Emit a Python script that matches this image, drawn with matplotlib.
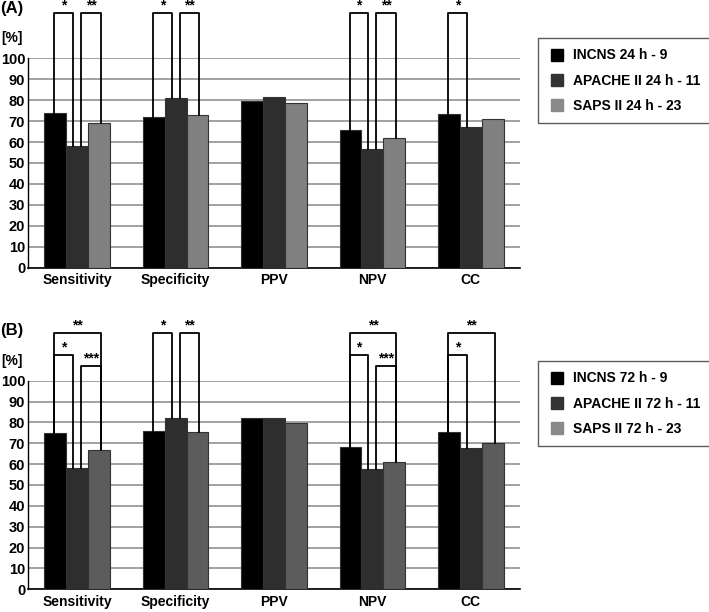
import numpy as np
import matplotlib.pyplot as plt
from matplotlib.lines import Line2D

plt.rcParams['font.family'] = ['Liberation Sans', 'DejaVu Sans']
plt.rcParams['font.weight'] = 'bold'

categories = ["Sensitivity", "Specificity", "PPV", "NPV", "CC"]

incns_24 = [74, 72, 79.5, 65.8, 73.3]
apache_24 = [58, 81, 81.7, 56.7, 67.2]
saps_24 = [69.3, 72.8, 78.7, 62, 71]

incns_72 = [75, 76, 82, 68, 75.3]
apache_72 = [58.3, 82, 82, 57.5, 67.6]
saps_72 = [66.8, 75.3, 79.7, 61, 70.3]

labels_24 = ["INCNS 24 h - 9", "APACHE II 24 h - 11", "SAPS II 24 h - 23"]
labels_72 = ["INCNS 72 h - 9", "APACHE II 72 h - 11", "SAPS II 72 h - 23"]

# (category, bar i, bar j, bracket height, stars)
brackets_24 = [(0, 0, 1, 121.5, "*"), (0, 1, 2, 121.5, "**"),
               (1, 0, 1, 121.5, "*"), (1, 1, 2, 121.5, "**"),
               (3, 0, 1, 121.5, "*"), (3, 1, 2, 121.5, "**"),
               (4, 0, 1, 121.5, "*")]
brackets_72 = [(0, 0, 2, 122.7, "**"), (0, 0, 1, 112.3, "*"), (0, 1, 2, 107.2, "***"),
               (1, 0, 1, 122.7, "*"), (1, 1, 2, 122.7, "**"),
               (3, 0, 2, 122.7, "**"), (3, 0, 1, 112.3, "*"), (3, 1, 2, 107.2, "***"),
               (4, 0, 2, 122.7, "**"), (4, 0, 1, 112.3, "*")]

W, H = 709, 612
fig = plt.figure(figsize=(W / 100, H / 100), dpi=100)

width = 0.222
legend_colors = ["#000000", "#333333", "#8a8a8a"]


def draw_panel(rect, series, saps_color, labels, brackets, tag, legend_top):
    ax = fig.add_axes(rect)
    x = np.arange(len(categories))
    colors = ["#000000", "#2e2e2e", saps_color]
    for k, vals in enumerate(series):
        ax.bar(x + (k - 1) * width, vals, width, color=colors[k],
               edgecolor="#333333", linewidth=0.8, zorder=3)

    ax.set_xlim(-0.5, 4.5)
    ax.set_ylim(0, 100)
    ax.set_yticks(range(0, 101, 10))
    ax.yaxis.grid(True, color="#9a9a9a", linewidth=1.3, zorder=0)
    ax.set_axisbelow(True)
    for s in ["top", "right"]:
        ax.spines[s].set_visible(False)
    ax.spines["left"].set_linewidth(1.0)
    ax.spines["bottom"].set_linewidth(1.2)
    ax.tick_params(axis="y", length=0, pad=2, labelsize=10.5)
    ax.tick_params(axis="x", length=0, pad=4, labelsize=10)
    ax.set_xticks(x)
    ax.set_xticklabels(categories)
    for t in ax.get_yticklabels() + ax.get_xticklabels():
        t.set_fontweight("bold")

    for cat, i, j, h, stars in brackets:
        xi = cat + (i - 1) * width + (0.04 if i == 1 else -0.01)
        xj = cat + (j - 1) * width + (-0.04 if j == 1 else 0.02)
        yi = series[i][cat]
        yj = series[j][cat]
        ax.plot([xi, xi, xj, xj], [yi, h, h, yj], color="black", lw=1.3,
                clip_on=False, zorder=4)
        ax.text((xi + xj) / 2, h + 0.3, stars, ha="center", va="bottom",
                fontsize=10, fontweight="bold", clip_on=False)

    handles = [Line2D([], [], marker="s", linestyle="none", markersize=8,
                      markerfacecolor=c, markeredgecolor=c) for c in legend_colors]
    leg = ax.legend(handles, labels, loc="upper left",
                    bbox_to_anchor=(538 / W, 1 - legend_top / H),
                    bbox_transform=fig.transFigure, frameon=True, fancybox=False,
                    prop={"weight": "bold", "size": 10}, handletextpad=0.55,
                    handlelength=1.2, labelspacing=0.8, borderpad=0.75,
                    borderaxespad=0)
    leg.get_frame().set_edgecolor("#333333")
    leg.get_frame().set_linewidth(1.0)

    top_px = H * (1 - (rect[1] + rect[3]))
    fig.text(0.0, 1 - (top_px - 50) / H, tag, fontsize=12, fontweight="bold",
             va="center", ha="left")
    fig.text(0.002, 1 - (top_px - 20) / H, "[%]", fontsize=10, fontweight="bold",
             va="center", ha="left")
    return ax


draw_panel([28 / W, 1 - 267.7 / H, 492 / W, 209.4 / H],
           [incns_24, apache_24, saps_24], "#808080", labels_24, brackets_24,
           "(A)", 38)
draw_panel([28 / W, 1 - 589.3 / H, 492 / W, 208.6 / H],
           [incns_72, apache_72, saps_72], "#5c5c5c", labels_72, brackets_72,
           "(B)", 361)

fig.savefig("out.png", dpi=100)
